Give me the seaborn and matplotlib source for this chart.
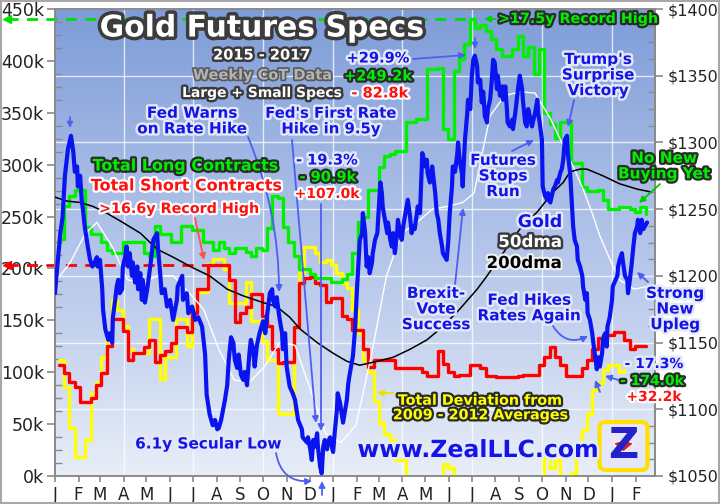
import numpy as np
import pandas as pd
import matplotlib
matplotlib.use("Agg")
import matplotlib.pyplot as plt
import matplotlib.patheffects as pe
from matplotlib.colors import LinearSegmentedColormap
from matplotlib.patches import FancyBboxPatch, Wedge, Rectangle
import seaborn as sns

# ---------------- data ----------------
cot_start = "2015-01-06"          # weekly CoT report dates
long_k = [228, 260, 270, 276, 276, 240, 233, 233, 225, 218,
          215, 215, 225, 225, 225, 225, 215, 212, 241, 233,
          233, 225, 225, 241, 241, 237, 237, 225, 225, 218,
          225, 220, 215, 220, 220, 216, 212, 220, 218, 239,
          270, 268, 240, 225, 212, 199, 199, 195, 191, 191,
          191, 187, 187, 190, 195, 215, 245, 250, 276, 276,
          298, 308, 310, 313, 313, 341, 341, 344, 344, 392,
          392, 393, 334, 325, 390, 402, 416, 440, 432, 435,
          429, 421, 411, 405, 405, 411, 424, 405, 413, 387,
          411, 350, 339, 326, 341, 341, 302, 302, 278, 275,
          275, 276, 266, 257, 257, 259, 259, 257, 254, 259,
          252]
short_k = [107, 99, 91, 86, 71, 71, 75, 88, 99, 125,
           151, 151, 140, 112, 119, 119, 124, 131, 110, 117,
           120, 128, 144, 144, 139, 157, 180, 180, 203, 203,
           203, 203, 189, 148, 157, 163, 175, 175, 154, 145,
           122, 109, 110, 110, 144, 186, 191, 192, 186, 184,
           168, 172, 172, 154, 151, 141, 141, 122, 105, 112,
           112, 112, 112, 104, 104, 104, 104, 104, 100, 96,
           96, 120, 108, 100, 96, 97, 97, 107, 107, 104,
           96, 96, 95, 95, 95, 95, 96, 97, 97, 97,
           107, 115, 124, 115, 107, 96, 96, 96, 104, 112,
           122, 133, 136, 136, 139, 139, 131, 122, 125, 125,
           125]
deviation_k = [112, 86, 46, 18, 18, 35, 80, 90, 115, 131,
               170, 160, 145, 122, 119, 119, 119, 151, 151, 93,
               115, 115, 151, 151, 125, 163, 177, 177, 204, 209,
               209, 199, 167, 167, 167, 187, 149, 149, 130, 112,
               112, 61, 60, 60, 144, 196, 221, 221, 215, 206,
               208, 203, 196, 186, 181, 160, 138, 112, 100, 72,
               51, 40, 35, 15, 15, -20, -30, -30, -30, -30,
               -30, -30, 12, 8, -30, -30, -30, -30, -30, -30,
               -30, -30, -30, -30, -30, -30, -30, -30, -30, -30,
               -30, 18, 8, 15, -20, -30, 3, 20, 44, 60,
               83, 90, 102, 107, 107, 100, 102]

# gold price, days since 2015-01-01
gold_day = [0, 3, 7, 10, 13, 17, 21, 24, 26, 29,
            30, 33, 35, 37, 39, 43, 46, 49, 52, 55,
            56, 59, 62, 63, 66, 70, 72, 75, 76, 79,
            81, 83, 85, 88, 89, 92, 94, 96, 98, 101,
            102, 105, 108, 109, 112, 114, 115, 118, 121, 125,
            129, 134, 135, 138, 140, 144, 147, 151, 155, 160,
            161, 167, 168, 173, 175, 180, 184, 188, 193, 197,
            199, 203, 207, 210, 213, 215, 218, 220, 223, 226,
            228, 231, 234, 236, 239, 241, 244, 247, 249, 252,
            255, 257, 260, 262, 265, 268, 270, 273, 276, 278,
            282, 285, 286, 289, 291, 293, 295, 298, 299, 302,
            304, 308, 312, 315, 319, 324, 325, 331, 332, 335,
            337, 339, 341, 344, 345, 348, 350, 352, 354, 357,
            358, 361, 364, 365, 367, 370, 371, 374, 377, 378,
            381, 383, 385, 387, 391, 394, 396, 398, 400, 403,
            404, 407, 409, 411, 413, 416, 417, 420, 423, 424,
            427, 429, 430, 433, 436, 437, 440, 442, 444, 446,
            449, 450, 453, 455, 457, 459, 463, 466, 468, 470,
            472, 475, 476, 479, 482, 483, 486, 488, 489, 492,
            495, 496, 499, 501, 503, 505, 508, 509, 512, 514,
            516, 518, 521, 522, 525, 528, 529, 531, 534, 535,
            538, 541, 542, 545, 547, 549, 551, 554, 555, 558,
            560, 562, 564, 567, 568, 571, 573, 575, 577, 580,
            581, 584, 587, 588, 591, 593, 594, 597, 600, 601,
            604, 606, 608, 610, 613, 614, 617, 619, 621, 623,
            626, 627, 630, 633, 634, 636, 639, 640, 643, 646,
            647, 650, 652, 654, 656, 659, 660, 663, 665, 667,
            669, 672, 673, 676, 678, 680, 682, 685, 686, 689,
            692, 693, 696, 698, 699, 702, 705, 706, 709, 711,
            713, 715, 718, 719, 722, 724, 725, 728, 731, 732,
            738, 739, 741, 744, 745, 748, 751, 752, 754, 757,
            759, 761, 764, 765, 768, 770, 772, 774, 777]
gold_usd = [1187, 1207, 1232, 1244, 1275, 1295, 1305, 1293, 1278, 1282,
            1267, 1275, 1257, 1248, 1237, 1222, 1212, 1207, 1210, 1214,
            1207, 1212, 1190, 1175, 1160, 1152, 1157, 1150, 1169, 1182,
            1192, 1197, 1187, 1190, 1207, 1214, 1222, 1207, 1217, 1200,
            1210, 1195, 1207, 1190, 1202, 1182, 1197, 1180, 1190, 1207,
            1227, 1232, 1222, 1202, 1187, 1190, 1177, 1182, 1167, 1182,
            1192, 1200, 1182, 1187, 1172, 1177, 1167, 1169, 1162, 1141,
            1111, 1096, 1088, 1092, 1085, 1086, 1092, 1098, 1107, 1118,
            1137, 1154, 1150, 1137, 1131, 1141, 1126, 1122, 1128, 1118,
            1141, 1152, 1145, 1132, 1148, 1156, 1160, 1166, 1157, 1169,
            1187, 1190, 1182, 1177, 1184, 1175, 1167, 1157, 1145, 1157,
            1132, 1117, 1112, 1107, 1092, 1085, 1079, 1075, 1079, 1070,
            1062, 1077, 1072, 1082, 1072, 1057, 1052, 1072, 1077, 1070,
            1075, 1079, 1070, 1068, 1082, 1100, 1112, 1105, 1094, 1090,
            1100, 1107, 1120, 1127, 1140, 1162, 1187, 1207, 1227, 1232,
            1247, 1232, 1207, 1214, 1202, 1210, 1217, 1227, 1232, 1242,
            1270, 1262, 1252, 1242, 1232, 1240, 1227, 1222, 1232, 1217,
            1232, 1242, 1232, 1227, 1237, 1244, 1257, 1244, 1232, 1237,
            1235, 1247, 1252, 1247, 1292, 1290, 1282, 1287, 1277, 1270,
            1282, 1277, 1262, 1247, 1242, 1232, 1222, 1217, 1214, 1212,
            1225, 1247, 1267, 1282, 1278, 1292, 1300, 1287, 1277, 1267,
            1302, 1322, 1332, 1325, 1350, 1362, 1365, 1357, 1345, 1347,
            1330, 1338, 1320, 1315, 1325, 1332, 1345, 1362, 1360, 1340,
            1350, 1335, 1342, 1332, 1342, 1325, 1315, 1312, 1317, 1310,
            1322, 1332, 1342, 1350, 1340, 1332, 1315, 1312, 1325, 1320,
            1312, 1315, 1322, 1332, 1322, 1315, 1302, 1267, 1260, 1257,
            1262, 1255, 1260, 1265, 1267, 1272, 1270, 1277, 1280, 1287,
            1302, 1305, 1292, 1277, 1257, 1237, 1227, 1222, 1212, 1207,
            1200, 1192, 1182, 1187, 1172, 1167, 1157, 1152, 1139, 1130,
            1139, 1132, 1142, 1152, 1157, 1147, 1162, 1169, 1182, 1192,
            1200, 1207, 1212, 1217, 1212, 1200, 1197, 1187, 1195, 1210,
            1222, 1232, 1237, 1242, 1232, 1242, 1235, 1237, 1240]

dma50_day = [0, 20, 40, 55, 75, 95, 115, 135, 155, 175, 195, 215, 235, 255, 275,
             295, 315, 335, 355, 375, 395, 415, 435, 455, 475, 495, 515, 535, 550,
             560, 571, 590, 610, 630, 650, 665, 680, 693, 705, 715, 730, 741, 760, 777]
dma50_usd = [1195, 1210, 1232, 1240, 1222, 1197, 1195, 1200, 1200, 1188, 1175, 1145, 1122, 1120, 1132,
             1150, 1148, 1115, 1082, 1075, 1088, 1140, 1200, 1232, 1240, 1250, 1252, 1255, 1262,
             1290, 1320, 1335, 1338, 1337, 1318, 1300, 1282, 1265, 1247, 1230, 1210, 1197, 1190, 1192]

dma200_day = [0, 16, 33, 50, 68, 89, 112, 134, 155, 181, 203, 226, 247, 273, 291, 308, 322,
              344, 365, 383, 400, 423, 444, 466, 488, 509, 531, 554, 567, 588, 610, 633,
              654, 667, 676, 689, 698, 719, 741, 764, 781]
dma200_usd = [1259, 1256, 1255, 1252, 1247, 1240, 1232, 1220, 1214, 1206, 1200, 1190, 1185, 1180, 1177, 1169, 1160,
              1150, 1142, 1136, 1133, 1136, 1139, 1145, 1152, 1162, 1175, 1190, 1200, 1217, 1235, 1248,
              1263, 1270, 1278, 1280, 1280, 1275, 1269, 1265, 1263]

month_letters = ["J", "F", "M", "A", "M", "J", "J", "A", "S", "O", "N", "D"]
left_ticks_k = [0, 50, 100, 150, 200, 250, 300, 350, 400, 450]
right_ticks_usd = [1050, 1100, 1150, 1200, 1250, 1300, 1350, 1400]

# ---------------- figure ----------------
sns.set_theme(style="ticks")
plt.rcParams["font.family"] = ["DejaVu Sans"]

W, H = 720, 504
fig = plt.figure(figsize=(W / 100, H / 100), dpi=100)
fig.patch.set_facecolor("white")
ax = fig.add_axes([55 / W, 28 / H, 600 / W, 467 / H])
ax2 = ax.twinx()

origin = pd.Timestamp("2015-01-01")
cot_dates = pd.date_range(cot_start, periods=len(long_k), freq="7D")
cot_x = np.asarray((cot_dates - origin).days, dtype=float)
XMAX = 787.4
KMAX = 450.0
UMIN, UMAX = 1050.0, 1400.0

# background gradient
grad = np.linspace(0, 1, 256).reshape(-1, 1)
bg = LinearSegmentedColormap.from_list("bg", ["#E8EEF8", "#C2D0EE", "#A2B8E4", "#7E9CD8"])
ax.imshow(grad, extent=[0, XMAX, 0, KMAX], origin="lower", aspect="auto", cmap=bg, zorder=0)

# grid: horizontal at right-axis majors, vertical quarterly
for u in right_ticks_usd[1:-1]:
    ax.axhline((u - UMIN) / (UMAX - UMIN) * KMAX, color="white", lw=1.0, alpha=0.75, zorder=1)
month_starts = pd.date_range("2015-01-01", "2017-02-01", freq="MS")
month_x = np.asarray((month_starts - origin).days, dtype=float)
for d, mx in zip(month_starts, month_x):
    if d.month in (1, 4, 7, 10) and mx > 0:
        ax.axvline(mx, color="white", lw=1.0, alpha=0.75, zorder=1)

# CoT step lines
sns.lineplot(x=cot_x[:len(deviation_k)], y=deviation_k, ax=ax, color="#FFFF00", lw=2.4,
             drawstyle="steps-post", zorder=3, sort=False)
sns.lineplot(x=cot_x, y=short_k, ax=ax, color="#FF0000", lw=2.4, drawstyle="steps-post", zorder=4, sort=False)
sns.lineplot(x=cot_x, y=long_k, ax=ax, color="#00F000", lw=2.4, drawstyle="steps-post", zorder=5, sort=False)

# record-high dashed guides
i_long = int(np.argmax(long_k))
i_short = int(np.argmax(short_k))
for val, xend, col in [(long_k[i_long], cot_x[i_long], "#00E000"), (short_k[i_short], cot_x[i_short], "#FF0000")]:
    ax.plot([-63, xend], [val, val], ls=(0, (4, 3)), color=col, lw=2.0, clip_on=False, zorder=6)
    ax.plot([-63], [val], marker="<", color=col, ms=6, clip_on=False, zorder=6)

# gold + moving averages
sns.lineplot(x=dma50_day, y=dma50_usd, ax=ax2, color="white", lw=1.0, zorder=2, sort=False)
sns.lineplot(x=dma200_day, y=dma200_usd, ax=ax2, color="black", lw=1.1, zorder=3, sort=False)
sns.lineplot(x=gold_day, y=gold_usd, ax=ax2, color="#0A14F0", lw=3.0, zorder=4, sort=False)

# axes cosmetics
ax.set_xlim(0, XMAX)
ax.set_ylim(0, KMAX)
ax2.set_ylim(UMIN, UMAX)
ax.set_xlabel("")
ax.set_ylabel("")
ax2.set_xlabel("")
ax2.set_ylabel("")

ax.set_yticks(left_ticks_k)
ax.set_yticklabels([f"{v}k" for v in left_ticks_k])
ax.set_yticks(np.arange(0, KMAX + 0.1, 12.5), minor=True)
ax2.set_yticks(right_ticks_usd)
ax2.set_yticklabels([f"${v}" for v in right_ticks_usd])
ax2.set_yticks(np.arange(UMIN, UMAX + 0.1, 12.5), minor=True)
ax.set_xticks(month_x)
ax.set_xticklabels([month_letters[d.month - 1] for d in month_starts])

tick_col = "#8a8a8a"
for a in (ax, ax2):
    for s in a.spines.values():
        s.set_color(tick_col)
        s.set_linewidth(1.2)
ax.tick_params(axis="y", which="major", direction="out", length=6, width=1.2, color=tick_col,
               labelsize=12.5, labelcolor="#222222", pad=2)
ax.tick_params(axis="y", which="minor", direction="in", length=5, width=1, color=tick_col)
ax.tick_params(axis="x", which="major", direction="out", length=4, width=1.2, color=tick_col,
               labelsize=12, labelcolor="#222222", pad=3)
ax2.tick_params(axis="y", which="major", direction="out", length=6, width=1.2, color=tick_col,
                labelsize=11.5, labelcolor="#222222", pad=3)
ax2.tick_params(axis="y", which="minor", direction="in", length=5, width=1, color=tick_col)
ax2.patch.set_visible(False)

# ---------------- annotations ----------------
STY = {
    "blue": ("#1414E6", "#E4E9F7", 3.5),
    "green": ("#00EE00", "#2A2A2A", 3.2),
    "red": ("#FF1010", "#FFFFFF", 3.2),
    "yellow": ("#FFFF00", "#2A2A2A", 3.2),
    "white": ("#FFFFFF", "#3A3A3A", 3.5),
    "grey": ("#B4B4B4", "#5A5A5A", 2.5),
    "black": ("#000000", "#F0F0F0", 3.0),
}


def T(x, y, s, kind, size=11.5, ls=1.05):
    c, fg, lw = STY[kind]
    fig.text(x / W, 1 - y / H, s, ha="center", va="center", fontsize=size, fontweight="bold",
             color=c, linespacing=ls, zorder=10,
             path_effects=[pe.withStroke(linewidth=lw, foreground=fg)])


def A(x1, y1, x2, y2, color="#4E5EF2", rad=0.0, lw=1.3, ms=9):
    ax2.annotate("", xy=(x2, H - y2), xytext=(x1, H - y1), xycoords="figure pixels",
                 textcoords="figure pixels", annotation_clip=False, zorder=9,
                 arrowprops=dict(arrowstyle="-|>", color=color, lw=lw, mutation_scale=ms,
                                 shrinkA=0, shrinkB=0, connectionstyle=f"arc3,rad={rad}"))


# title block
fig.text(262 / W, 1 - 28 / H, "Gold Futures Specs", ha="center", va="center", fontsize=21.5,
         fontweight="bold", color="white", zorder=10,
         path_effects=[pe.withStroke(linewidth=5, foreground="#3C3C3C")])
T(262, 55, "2015 - 2017", "white", 10.5)
T(263, 75, "Weekly CoT Data", "grey", 10.5)
T(262, 93, "Large + Small Specs", "white", 10)
T(378, 58, "+29.9%", "blue", 10.5)
T(378, 76, "+249.2k", "green", 10.5)
T(380, 93, "- 82.8k", "red", 10.5)

T(192, 121, "Fed Warns\non Rate Hike", "blue", 11)
T(331, 121, "Fed's First Rate\nHike in 9.5y", "blue", 10.7)
T(327, 160, "- 19.3%", "blue", 10.5)
T(328, 177, "- 90.9k", "green", 10.5)
T(327, 194, "+107.0k", "red", 10)
T(186, 166, "Total Long Contracts", "green", 11.5)
T(187, 186, "Total Short Contracts", "red", 11.5)
T(179, 209, ">16.6y Record High", "red", 10.3)
T(578, 19, ">17.5y Record High", "green", 10.3)
T(598, 75, "Trump's\nSurprise\nVictory", "blue", 11)
T(503, 176, "Futures\nStops\nRun", "blue", 11)
T(540, 222, "Gold", "blue", 12.5)
T(530, 242, "50dma", "white", 12)
T(524, 263, "200dma", "black", 12)
T(436, 309, "Brexit-\nVote\nSuccess", "blue", 11)
T(529, 308, "Fed Hikes\nRates Again", "blue", 11)
T(675, 309, "Strong\nNew\nUpleg", "blue", 11)
T(664, 166, "No New\nBuying Yet", "green", 11)
T(654, 364, "- 17.3%", "blue", 10)
T(652, 381, "- 174.0k", "green", 10)
T(654, 397, "+32.2k", "red", 10)
T(480, 408, "Total Deviation from\n2009 - 2012 Averages", "yellow", 10.3)
T(478, 450, "www.ZealLLC.com", "blue", 17)
T(208, 444, "6.1y Secular Low", "blue", 11)

# arrows
A(248, 137, 279, 292, rad=-0.1)
A(292, 140, 316, 423)
A(321, 204, 321, 431)
A(413, 59, 466, 55)
A(195, 218, 204, 260, color="#FF5050")
A(574, 100, 568, 127)
A(512, 151, 534, 140)
A(455, 285, 463, 208)
A(553, 326, 588, 336, rad=0.45)
A(648, 282, 637, 272)
A(660, 184, 639, 203, color="#00C800")
A(622, 381, 605, 376)
A(600, 392, 595, 380)
A(393, 393, 377, 393, color="#F0E000")
A(276, 453, 312, 481, rad=0.45)
A(322, 495, 322, 481)
A(70, 117, 70, 128, ms=8)
A(475, 38, 475, 49, ms=8)
A(496, 19, 484, 19, color="#00D000")

# Zeal logo
fig.patches.append(FancyBboxPatch((601 / W, 1 - 469 / H), 45 / W, 46 / H,
                                  boxstyle="round,pad=0.002,rounding_size=0.01",
                                  transform=fig.transFigure, facecolor="#E6E6FA",
                                  edgecolor="#FFE000", lw=3, zorder=8))
fig.text(623.5 / W, 1 - 446 / H, "Z", ha="center", va="center", fontsize=30, fontweight="bold",
         color="#2222C8", zorder=9)
fig.patches.append(Wedge((623.5 / W, 1 - 452 / H), 0.022, 50, 130, transform=fig.transFigure,
                         facecolor="#E02020", edgecolor="white", lw=0.8, zorder=9))

# outer border
fig.patches.append(Rectangle((0.001, 0.001), 0.998, 0.997, transform=fig.transFigure,
                             fill=False, edgecolor="#A8A8A8", lw=1.5, zorder=20))

fig.savefig("out.png", dpi=100)
